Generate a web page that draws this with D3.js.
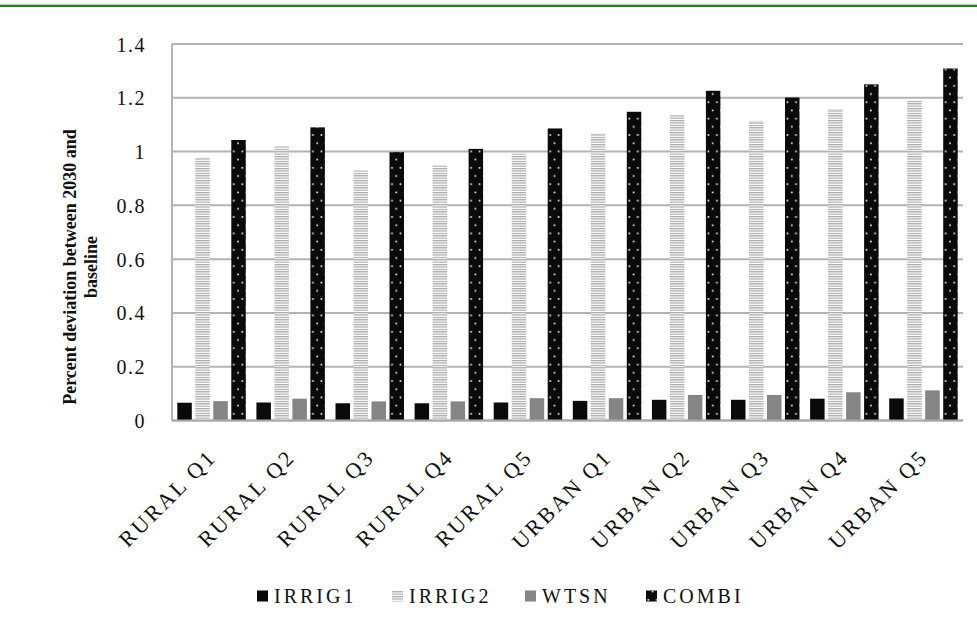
<!DOCTYPE html>
<html><head><meta charset="utf-8">
<script src="https://cdn.jsdelivr.net/npm/d3@7"></script>
<style>
html,body{margin:0;padding:0;background:#fff;}
svg{display:block;}
text{font-family:"Liberation Serif","Times New Roman",serif;fill:#111;}
</style></head>
<body>
<script>
const categories = ["RURAL Q1","RURAL Q2","RURAL Q3","RURAL Q4","RURAL Q5","URBAN Q1","URBAN Q2","URBAN Q3","URBAN Q4","URBAN Q5"];
const seriesNames = ["IRRIG1","IRRIG2","WTSN","COMBI"];
const irrig1 = [0.066, 0.067, 0.064, 0.064, 0.067, 0.073, 0.077, 0.077, 0.081, 0.082];
const irrig2 = [0.977, 1.02, 0.93, 0.95, 0.993, 1.067, 1.135, 1.114, 1.158, 1.191];
const wtsn   = [0.072, 0.081, 0.071, 0.071, 0.083, 0.083, 0.095, 0.095, 0.105, 0.112];
const combi  = [1.043, 1.09, 0.998, 1.01, 1.086, 1.148, 1.226, 1.201, 1.25, 1.309];
const yTicks = [0, 0.2, 0.4, 0.6, 0.8, 1, 1.2, 1.4];
const yTitle = ["Percent deviation between 2030 and", "baseline"];

const values = [irrig1, irrig2, wtsn, combi];
const W = 977, H = 621;
const svg = d3.select("body").append("svg").attr("width", W).attr("height", H);

// top green rule
svg.append("rect").attr("x",0).attr("y",4).attr("width",W).attr("height",1).attr("fill","#b9cdb9");
svg.append("rect").attr("x",0).attr("y",5).attr("width",W).attr("height",2).attr("fill","#2f7d2f");

const defs = svg.append("defs");
const pStripe = defs.append("pattern").attr("id","stripe").attr("patternUnits","userSpaceOnUse")
  .attr("width",4).attr("height",2.4);
pStripe.append("rect").attr("width",4).attr("height",2.4).attr("fill","#fff");
pStripe.append("rect").attr("y",0).attr("width",4).attr("height",1.2).attr("fill","#a8a8a8");
const pDot = defs.append("pattern").attr("id","dots").attr("patternUnits","userSpaceOnUse")
  .attr("width",8.5).attr("height",16.4);
pDot.append("rect").attr("width",8.5).attr("height",16.4).attr("fill","#0a0a0a");
pDot.append("rect").attr("x",1.5).attr("y",3).attr("width",1.6).attr("height",1.6).attr("fill","#fff");
pDot.append("rect").attr("x",5.8).attr("y",11.2).attr("width",1.6).attr("height",1.6).attr("fill","#fff");

const fills = ["#0a0a0a","url(#stripe)","#858585","url(#dots)"];

const x0 = d3.scaleBand().domain(categories).range([172, 963]).paddingInner(0).paddingOuter(0);
const x1 = d3.scaleBand().domain(seriesNames).range([0, x0.bandwidth()]).paddingInner(0.195).paddingOuter(0.295);
const y = d3.scaleLinear().domain([0, 1.4]).range([420.5, 44]);

// gridlines
svg.append("g").selectAll("line").data(yTicks).join("line")
  .attr("x1",172).attr("x2",963).attr("y1",d=>y(d)).attr("y2",d=>y(d))
  .attr("stroke","#b3b3b3").attr("stroke-width",2);
// left axis line
svg.append("line").attr("x1",172).attr("x2",172).attr("y1",y(1.4)).attr("y2",y(0))
  .attr("stroke","#b3b3b3").attr("stroke-width",2);

// y tick labels
const yAxis = d3.axisLeft(y).tickValues(yTicks).tickSize(0).tickPadding(0).tickFormat(d=>String(d));
const gy = svg.append("g").attr("transform","translate(146,0)").call(yAxis);
gy.select(".domain").remove();
gy.selectAll("text").attr("font-size",20).attr("font-family","'Liberation Serif',serif").attr("fill","#111")
  .attr("letter-spacing",1.5).attr("dy","0.35em");

// bars
const groups = svg.append("g").selectAll("g").data(categories).join("g")
  .attr("transform", d=>`translate(${x0(d)},0)`);
groups.selectAll("rect").data((c,i)=>seriesNames.map((s,k)=>({s, v: values[k][i], k}))).join("rect")
  .attr("x", d=>x1(d.s)).attr("width", x1.bandwidth())
  .attr("y", d=>y(d.v)).attr("height", d=>y(0)-y(d.v))
  .attr("fill", d=>fills[d.k]);

// baseline
svg.append("line").attr("x1",172).attr("x2",963).attr("y1",y(0)).attr("y2",y(0))
  .attr("stroke","#a8a8a8").attr("stroke-width",2);

// x labels
const xAxis = d3.axisBottom(x0).tickSize(0).tickPadding(0);
const gx = svg.append("g").attr("transform",`translate(0,${y(0)})`).call(xAxis);
gx.select(".domain").remove();
gx.selectAll("text").attr("font-size",22).attr("font-family","'Liberation Serif',serif").attr("fill","#111")
  .attr("text-anchor","end").attr("letter-spacing",2.6).attr("dy",0)
  .attr("transform","translate(6,38) rotate(-45)");

// y title
const yt = svg.append("text").attr("transform","translate(0,267) rotate(-90)")
  .attr("text-anchor","middle").attr("font-weight","bold").attr("font-size",18);
yt.selectAll("tspan").data(yTitle).join("tspan")
  .attr("x",0).attr("y",(d,i)=>76 + i*21).text(d=>d);

// legend
const legX = [257, 392, 525, 646];
const leg = svg.append("g").selectAll("g").data(seriesNames).join("g")
  .attr("transform",(d,i)=>`translate(${legX[i]},596)`);
leg.append("rect").attr("x",0).attr("y",-5.5).attr("width",11).attr("height",11).attr("fill",(d,i)=>fills[i]);
leg.append("text").attr("x",17).attr("y",0).attr("dy","0.35em").attr("font-size",20)
  .attr("letter-spacing",3).text(d=>d);
</script>
</body></html>
